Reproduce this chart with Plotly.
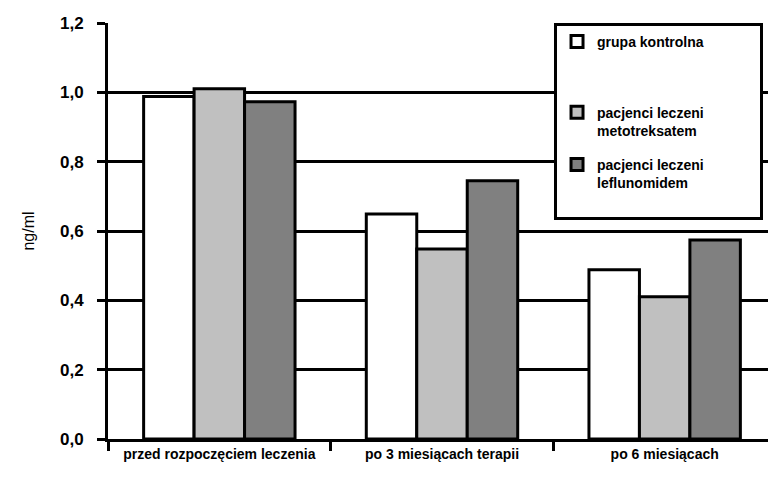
import plotly.graph_objects as go

# dane
kategorie = ["przed rozpoczęciem leczenia", "po 3 miesiącach terapii", "po 6 miesiącach"]
serie = ["grupa kontrolna<br> <br> ", "pacjenci leczeni<br>metotreksatem", "pacjenci leczeni<br>leflunomidem<br> "]
wartosci = [
    [0.988, 0.649, 0.488],
    [1.010, 0.548, 0.410],
    [0.973, 0.745, 0.574],
]
kolory = ["#ffffff", "#c0c0c0", "#808080"]
tick_y = [0, 0.2, 0.4, 0.6, 0.8, 1.0, 1.2]
tick_y_txt = ["0,0", "0,2", "0,4", "0,6", "0,8", "1,0", "1,2"]

fig = go.Figure()
for nazwa, y, kolor in zip(serie, wartosci, kolory):
    # dopełnienie spacjami, żeby ramka legendy była szersza
    fig.add_trace(go.Bar(x=kategorie, y=y, name=nazwa + "&nbsp;" * 15, legendgroup=nazwa,
                         marker=dict(color=kolor, line=dict(color="black", width=3))))

font = "Liberation Sans, Arial, sans-serif"
# strona html ma 8px marginesu body, stąd figura 768x485
fig.update_layout(
    width=768, height=485,
    margin=dict(l=100, r=0, t=15, b=54),
    plot_bgcolor="white", paper_bgcolor="white",
    barmode="group", bargap=0.32, bargroupgap=0,
    font=dict(family=font, color="black"),
    legend=dict(x=0.6677, y=1, xanchor="left", yanchor="top", valign="top",
                bordercolor="black", borderwidth=3, bgcolor="white",
                font=dict(size=14, family=font, weight="bold"),
                tracegroupgap=13),
)
fig.update_xaxes(showline=True, linecolor="black", linewidth=3,
                 ticks="outside", tickson="boundaries", ticklen=9, tickwidth=3, tickcolor="black",
                 tickfont=dict(size=14, weight="bold"), showgrid=False)
fig.update_yaxes(range=[0, 1.2], tickvals=tick_y, ticktext=tick_y_txt,
                 showline=True, linecolor="black", linewidth=3,
                 ticks="outside", ticklen=8, tickwidth=3, tickcolor="black",
                 tickfont=dict(size=17, weight="bold"), ticklabelstandoff=10,
                 showgrid=True, gridcolor="black", gridwidth=3, zeroline=False,
                 title=dict(text="ng/ml", font=dict(size=16), standoff=22))

fig.write_html("out.html")
